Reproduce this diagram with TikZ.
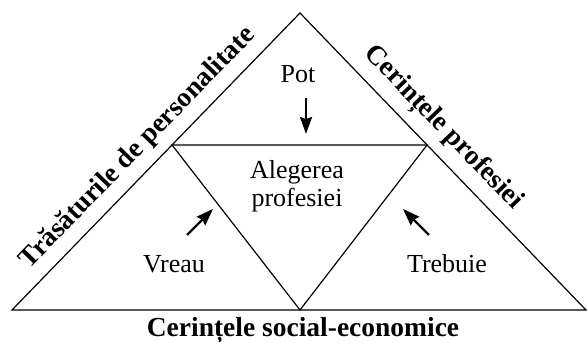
\documentclass[tikz,border=0pt]{standalone}
\usepackage{fontspec}
\setmainfont{Liberation Serif}
\usepackage{tikz}
\usetikzlibrary{arrows.meta}
\usetikzlibrary{calc}

\begin{document}
\begin{tikzpicture}[x=1pt,y=1pt]
            \tikzstyle{edge}=[draw=black,line width=1.2pt,line join=miter]
            \tikzstyle{push}=[draw=black,line width=2.4pt,-{Stealth[length=17pt,width=12pt,inset=2pt]}]
            \tikzstyle{word}=[inner sep=0pt,font=\fontsize{26}{28}\selectfont]
            \tikzstyle{side}=[inner sep=0pt,font=\fontsize{27.5}{30}\selectfont\bfseries]

            \useasboundingbox (0,0) rectangle (587,342);

            \def\b{32}

            \coordinate (L) at ( 12,\b);
            \coordinate (A) at (300,329);
            \coordinate (R) at (586,\b);
            \coordinate (P) at ($(L)!0.5556!(A)$);
            \coordinate (Q) at ($(A)!0.4444!(R)$);
            \coordinate (M) at (300,\b);

            \path[edge] (L) -- (A) -- (R) -- cycle;
            \path[edge] (P) -- (Q) -- (M) -- cycle;

            \node[word,anchor=base] (pot)    at (298,259) {Pot};
            \node[word,align=center] (alege) at (297,156) {Alegerea\\profesiei};
            \node[word,anchor=base] (vreau)  at (174, 69) {Vreau};
            \node[word,anchor=base] (trebuie) at (447, 69) {Trebuie};

            \node[side,rotate=45.9]  (pers) at (138,194) {Trăsăturile de personalitate};
            \node[side,rotate=-46.1] (prof) at (443,214) {Cerințele profesiei};
            \node[side,anchor=base]  (soc)  at (303,  5) {Cerințele social-economice};

            \coordinate (p1) at (306,244);
            \coordinate (p2) at (306,208);
            \coordinate (v1) at (187,107);
            \coordinate (v2) at (213,133);
            \coordinate (t1) at (429,107);
            \coordinate (t2) at (403,133);

            \path[push] (p1) -- (p2);
            \path[push] (v1) -- (v2);
            \path[push] (t1) -- (t2);
        \end{tikzpicture}
\end{document}
